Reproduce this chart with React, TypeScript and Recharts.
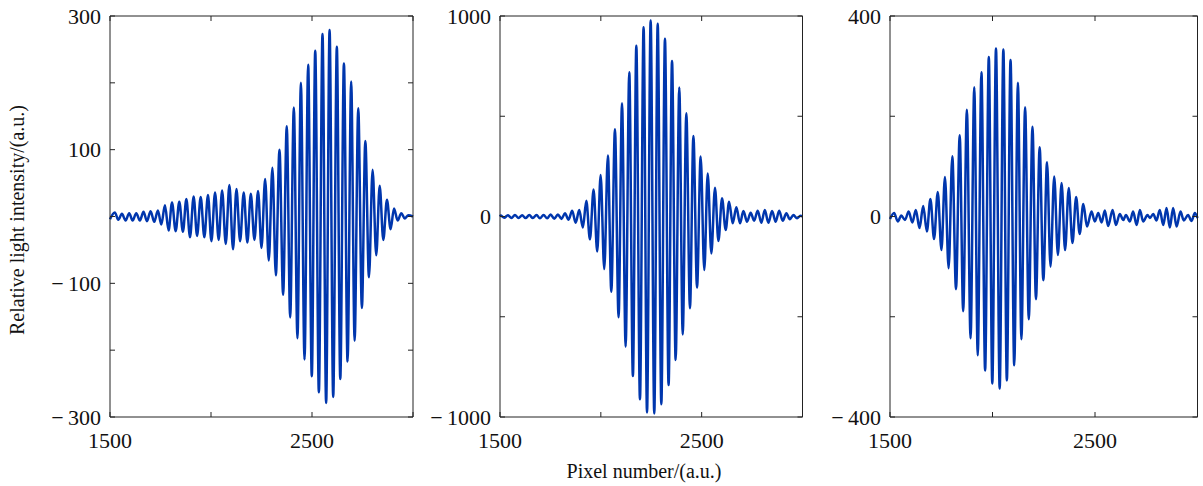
import { LineChart, Line, XAxis, YAxis } from "recharts";

// Panel 1 — extrema (pixel number, intensity)
const p1Pixel = [
  1500, 1524, 1541, 1559, 1577, 1595, 1612, 1630, 1648, 1666, 1683, 1701, 1719, 1737, 1754,
  1772, 1790, 1807, 1825, 1843, 1861, 1878, 1896, 1914, 1931, 1949, 1967, 1985, 2002, 2020,
  2038, 2055, 2073, 2091, 2109, 2126, 2144, 2162, 2180, 2197, 2215, 2233, 2250, 2268, 2286,
  2304, 2321, 2339, 2357, 2375, 2392, 2410, 2428, 2445, 2463, 2481, 2499, 2516, 2534, 2552,
  2570, 2587, 2605, 2623, 2640, 2658, 2676, 2694, 2711, 2729, 2747, 2764, 2782, 2800, 2818,
  2835, 2853, 2871, 2889, 2906, 2924, 2942, 2959, 2977, 3000,
];
const p1Intensity = [
  -4, 6, -5, 4, -6, 5, -6, 5, -6, 7, -7, 8, -8, 9, -12,
  17, -21, 21, -22, 22, -23, 26, -31, 30, -29, 29, -31, 32, -37, 36,
  -35, 39, -41, 47, -49, 41, -37, 36, -39, 34, -35, 38, -47, 56, -66,
  73, -88, 100, -117, 135, -151, 163, -182, 200, -214, 227, -239, 248, -263, 273,
  -279, 279, -270, 254, -243, 229, -217, 202, -186, 162, -137, 113, -91, 70, -58,
  46, -35, 25, -19, 12, -6, 5, -3, 2, 0,
];

// Panel 2
const p2Pixel = [
  1500, 1503, 1521, 1539, 1557, 1574, 1592, 1610, 1627, 1645, 1663, 1681, 1698, 1716, 1734,
  1751, 1769, 1787, 1805, 1822, 1840, 1858, 1875, 1893, 1911, 1928, 1946, 1964, 1982, 1999,
  2017, 2035, 2052, 2070, 2088, 2105, 2123, 2141, 2159, 2176, 2194, 2212, 2229, 2247, 2265,
  2282, 2300, 2318, 2336, 2353, 2371, 2389, 2406, 2424, 2442, 2459, 2477, 2495, 2513, 2530,
  2548, 2566, 2583, 2601, 2619, 2636, 2654, 2672, 2690, 2707, 2725, 2743, 2760, 2778, 2796,
  2813, 2831, 2849, 2867, 2884, 2902, 2920, 2937, 2955, 2973, 2990, 3000,
];
const p2Intensity = [
  0, 5, -6, 6, -7, 7, -7, 6, -8, 7, -8, 8, -9, 8, -9,
  10, -11, 10, -12, 16, -16, 29, -31, 32, -55, 78, -114, 135, -175, 207,
  -262, 304, -375, 435, -503, 565, -649, 719, -796, 851, -912, 944, -977, 977, -982,
  961, -936, 886, -841, 776, -716, 644, -588, 515, -458, 402, -354, 299, -267, 215,
  -184, 144, -122, 91, -67, 74, -34, 46, -34, 27, -26, 19, -21, 29, -31,
  32, -31, 27, -26, 29, -21, 16, -14, 7, -9, 4, 0,
];

// Panel 3
const p3Pixel = [
  1500, 1520, 1538, 1555, 1573, 1591, 1609, 1626, 1644, 1662, 1680, 1697, 1715, 1733, 1751,
  1768, 1786, 1804, 1822, 1840, 1857, 1875, 1893, 1911, 1928, 1946, 1964, 1982, 1999, 2017,
  2035, 2053, 2070, 2088, 2106, 2124, 2141, 2159, 2177, 2195, 2212, 2230, 2248, 2266, 2283,
  2301, 2319, 2337, 2354, 2372, 2390, 2408, 2425, 2443, 2461, 2483, 2499, 2516, 2532, 2548,
  2564, 2586, 2602, 2621, 2638, 2651, 2670, 2686, 2703, 2719, 2735, 2756, 2768, 2784, 2800,
  2816, 2833, 2849, 2865, 2881, 2898, 2917, 2933, 2954, 2971, 2987, 3000,
];
const p3Intensity = [
  -5, 7, -10, 2, -7, 10, -12, 13, -23, 21, -30, 35, -45, 49, -67,
  79, -103, 120, -145, 162, -189, 213, -243, 258, -277, 288, -307, 318, -333, 335,
  -343, 333, -327, 312, -297, 267, -245, 218, -205, 179, -165, 138, -127, 108, -100,
  80, -77, 67, -67, 57, -53, 39, -35, 25, -20, 10, -10, 7, -12, 12,
  -19, 13, -17, 5, -7, 3, -10, 10, -17, 13, -10, 3, -3, 5, -8,
  13, -17, 17, -22, 17, -20, 10, -8, 3, -9, 7, -3,
];

const xTicks = [1500, 2000, 2500, 3000];
const xLabelled = [1500, 2500];
const p1YTicks = [-300, -200, -100, 0, 100, 200, 300];
const p1YLabelled = [-300, -100, 100, 300];
const p2YTicks = [-1000, -500, 0, 500, 1000];
const p2YLabelled = [-1000, 0, 1000];
const p3YTicks = [-400, -200, 0, 200, 400];
const p3YLabelled = [-400, 0, 400];

const FONT = '"Liberation Serif", "Times New Roman", serif';
const INK = "#111";
const BOX = "#222";
const TRACE = "#0036ad";

const fmt = (v: number) => (v < 0 ? `\u2212\u2009${Math.abs(v)}` : String(v));

// ticks point into the box, matlab style
const leftTick = (labelled: number[]) => (props: any) => {
  const { x, y, payload } = props;
  return (
    <g>
      <line x1={x} y1={y} x2={x + 5} y2={y} stroke={BOX} />
      {labelled.includes(payload.value) && (
        <text x={x - 9} y={y} textAnchor="end" dominantBaseline="central" fontFamily={FONT} fontSize={22} fill={INK}>
          {fmt(payload.value)}
        </text>
      )}
    </g>
  );
};

const rightTick = (props: any) => (
  <line x1={props.x} y1={props.y} x2={props.x - 5} y2={props.y} stroke={BOX} />
);

const bottomTick = (props: any) => {
  const { x, y, payload } = props;
  return (
    <g>
      <line x1={x} y1={y} x2={x} y2={y - 5} stroke={BOX} />
      {xLabelled.includes(payload.value) && (
        <text x={x} y={y + 31} textAnchor="middle" fontFamily={FONT} fontSize={22} fill={INK}>
          {payload.value}
        </text>
      )}
    </g>
  );
};

const topTick = (props: any) => (
  <line x1={props.x} y1={props.y} x2={props.x} y2={props.y + 5} stroke={BOX} />
);

interface PanelProps {
  left: number;
  width: number;
  marginLeft: number;
  marginRight: number;
  pixels: number[];
  values: number[];
  yDomain: [number, number];
  yTicks: number[];
  yLabelled: number[];
}

// axes are 1px thick so recharts still draws them; margins take that pixel back
function Panel({ left, width, marginLeft, marginRight, pixels, values, yDomain, yTicks, yLabelled }: PanelProps) {
  const data = pixels.map((x, i) => ({ x, y: values[i] }));
  return (
    <div style={{ position: "absolute", left, top: 0 }}>
      <LineChart
        width={width}
        height={486}
        data={data}
        margin={{ top: 15, bottom: 68, left: marginLeft - 1, right: marginRight - 1 }}
      >
        <XAxis
          type="number"
          dataKey="x"
          domain={[1500, 3000]}
          ticks={xTicks}
          interval={0}
          height={1}
          tickSize={0}
          tickMargin={0}
          tickLine={false}
          tick={bottomTick}
          axisLine={{ stroke: BOX }}
        />
        <XAxis
          xAxisId="top"
          orientation="top"
          type="number"
          dataKey="x"
          domain={[1500, 3000]}
          allowDataOverflow
          ticks={xTicks}
          interval={0}
          height={1}
          tickSize={0}
          tickMargin={0}
          tickLine={false}
          tick={topTick}
          axisLine={{ stroke: BOX }}
        />
        <YAxis
          type="number"
          domain={yDomain}
          ticks={yTicks}
          interval={0}
          width={1}
          tickSize={0}
          tickMargin={0}
          tickLine={false}
          tick={leftTick(yLabelled)}
          axisLine={{ stroke: BOX }}
        />
        <YAxis
          yAxisId="right"
          orientation="right"
          type="number"
          domain={yDomain}
          allowDataOverflow
          ticks={yTicks}
          interval={0}
          width={1}
          tickSize={0}
          tickMargin={0}
          tickLine={false}
          tick={rightTick}
          axisLine={{ stroke: BOX }}
        />
        <Line
          type="monotone"
          dataKey="y"
          stroke={TRACE}
          strokeWidth={2.5}
          dot={false}
          isAnimationActive={false}
        />
      </LineChart>
    </div>
  );
}

export default function App() {
  return (
    <div style={{ position: "absolute", left: 0, top: 0, width: 1203, height: 486, background: "#fff" }}>
      <Panel left={0} width={430} marginLeft={110} marginRight={17} pixels={p1Pixel} values={p1Intensity}
        yDomain={[-300, 300]} yTicks={p1YTicks} yLabelled={p1YLabelled} />
      <Panel left={430} width={380} marginLeft={70} marginRight={7.5} pixels={p2Pixel} values={p2Intensity}
        yDomain={[-1000, 1000]} yTicks={p2YTicks} yLabelled={p2YLabelled} />
      <Panel left={810} width={393} marginLeft={80} marginRight={5.5} pixels={p3Pixel} values={p3Intensity}
        yDomain={[-400, 400]} yTicks={p3YTicks} yLabelled={p3YLabelled} />
      <svg width={1203} height={486} style={{ position: "absolute", left: 0, top: 0, pointerEvents: "none" }}>
        <text x={644} y={478} textAnchor="middle" fontFamily={FONT} fontSize={20} fill={INK}>
          Pixel number/(a.u.)
        </text>
        <text transform="translate(24,220) rotate(-90)" textAnchor="middle" fontFamily={FONT} fontSize={20} fill={INK}>
          Relative light intensity/(a.u.)
        </text>
      </svg>
    </div>
  );
}
